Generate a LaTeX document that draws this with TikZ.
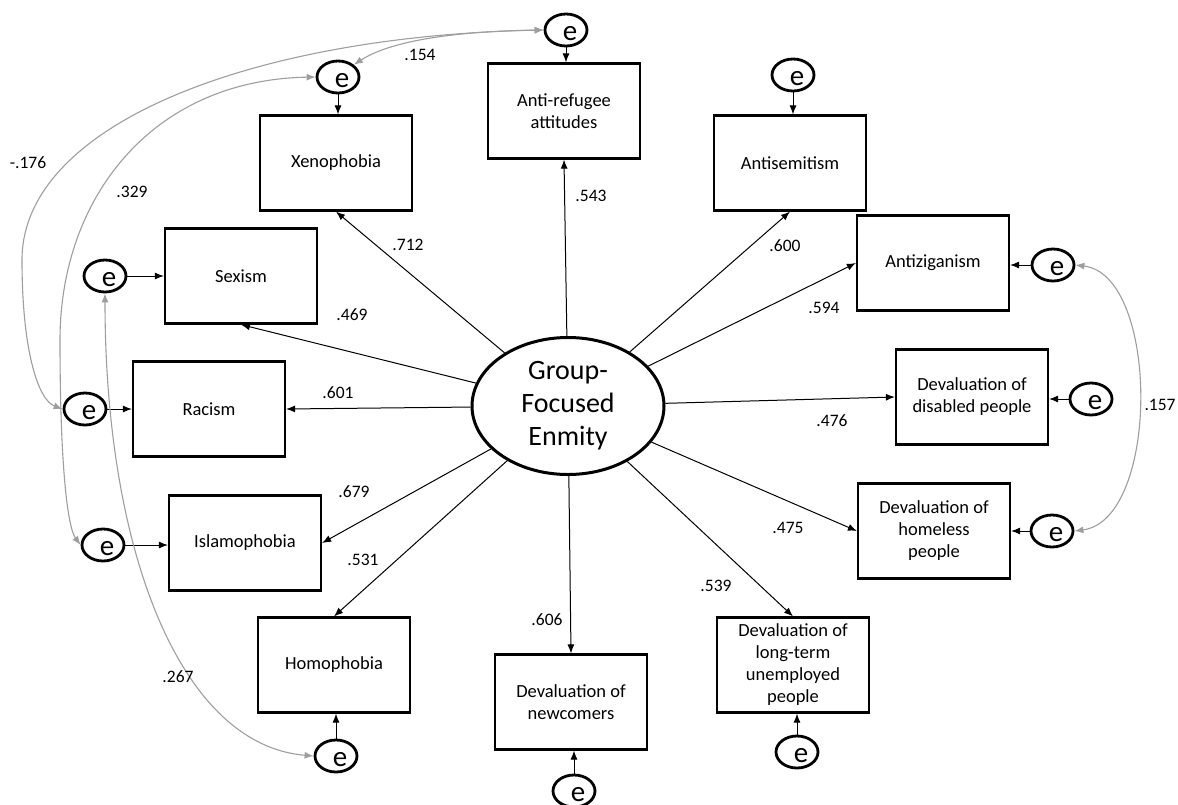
\documentclass[tikz,border=0pt]{standalone}
\usepackage{fontspec}
\setmainfont{Carlito}
\usetikzlibrary{arrows.meta,shapes.geometric}
\newcommand{\errtxt}{\smash{\raisebox{-10pt}{\makebox[0pt]{\hspace{8pt}e}}}}
\begin{document}
\begin{tikzpicture}[x=1pt, y=-1pt,
    box_style/.style={draw=black, line width=2.2pt, minimum width=152pt, minimum height=95pt, align=center, inner sep=2pt, font=\fontsize{18.5}{22}\selectfont},
    lat_style/.style={ellipse, draw=black, line width=3pt, minimum width=192pt, minimum height=137pt, inner sep=0pt, align=center, font=\fontsize{28}{33}\selectfont},
    err_style/.style={ellipse, draw=black, line width=2.8pt, minimum width=42pt, minimum height=32pt, inner sep=0pt, font=\fontsize{29}{29}\selectfont},
    load_style/.style={-{Latex[length=9pt,width=7pt]}, draw=black, line width=1pt},
    cov_style/.style={{Latex[length=9pt,width=7pt]}-{Latex[length=9pt,width=7pt]}, draw=black!38, line width=1.1pt},
    coef_style/.style={font=\fontsize{17.5}{17.5}\selectfont}]
  \useasboundingbox (0,0) rectangle (1178,804);
  \draw
    (568,406) node[lat_style] (gfe){Group-\\Focused\\Enmity}
    (336,163) node[box_style] (xeno){Xenophobia}
    (564,111) node[box_style] (refu){Anti-refugee\\attitudes}
    (790,163) node[box_style] (antis){Antisemitism}
    (933,263) node[box_style] (antiz){Antiziganism}
    (241,276) node[box_style] (sex){Sexism}
    (209,409) node[box_style] (rac){Racism}
    (972,397) node[box_style] (dis){Devaluation of\\disabled people}
    (245,543) node[box_style] (isl){Islamophobia}
    (934,531) node[box_style] (home){Devaluation of\\homeless\\people}
    (334,665) node[box_style] (homo){Homophobia}
    (571,702) node[box_style] (newc){Devaluation of\\newcomers}
    (793,665) node[box_style] (unemp){Devaluation of\\long-term\\unemployed\\people};
  \draw
    (566,30) node[err_style] (e_refu){\errtxt}
    (338,77) node[err_style] (e_xeno){\errtxt}
    (793,75) node[err_style] (e_antis){\errtxt}
    (1053,265) node[err_style] (e_antiz){\errtxt}
    (105,276) node[err_style] (e_sex){\errtxt}
    (85,409) node[err_style] (e_rac){\errtxt}
    (1091,399) node[err_style] (e_dis){\errtxt}
    (103,545) node[err_style] (e_isl){\errtxt}
    (1052,531) node[err_style] (e_home){\errtxt}
    (336,756) node[err_style] (e_homo){\errtxt}
    (574,791) node[err_style] (e_newc){\errtxt}
    (797,752) node[err_style] (e_unemp){\errtxt};
  % loadings
  \begin{scope}[load_style]
    \draw (gfe) -- (xeno.south);
    \draw (gfe) -- (refu.south);
    \draw (gfe) -- (antis.south);
    \draw (gfe) -- (antiz.west);
    \draw (gfe) -- (sex.south);
    \draw (gfe) -- (rac.east);
    \draw (gfe) -- (dis.west);
    \draw (gfe) -- (isl.east);
    \draw (gfe) -- (home.west);
    \draw (gfe) -- (homo.north);
    \draw (gfe) -- (newc.north);
    \draw (gfe) -- (unemp.north);
  \end{scope}
  % residuals
  \begin{scope}[load_style]
    \draw (e_refu) -- (e_refu |- refu.north);
    \draw (e_xeno) -- (e_xeno |- xeno.north);
    \draw (e_antis) -- (e_antis |- antis.north);
    \draw (e_antiz) -- (e_antiz -| antiz.east);
    \draw (e_sex) -- (e_sex -| sex.west);
    \draw (e_rac) -- (e_rac -| rac.west);
    \draw (e_dis) -- (e_dis -| dis.east);
    \draw (e_isl) -- (e_isl -| isl.west);
    \draw (e_home) -- (e_home -| home.east);
    \draw (e_homo) -- (e_homo |- homo.south);
    \draw (e_newc) -- (e_newc |- newc.south);
    \draw (e_unemp) -- (e_unemp |- unemp.south);
  \end{scope}
  % covariances
  \begin{scope}[cov_style]
    \draw (e_refu.west) .. controls (470,31) and (395,38) .. (e_xeno.north east);
    \draw (e_refu.west) .. controls (250,36) and (22,125) .. (22,260) .. controls (22,350) and (38,400) .. (e_rac.west);
    \draw (e_xeno.west) .. controls (150,80) and (60,200) .. (60,340) .. controls (60,470) and (68,528) .. (e_isl.west);
    \draw (e_sex.south) .. controls (105,550) and (180,745) .. (e_homo.west);
    \draw (e_antiz.east) .. controls (1160,275) and (1160,520) .. (e_home.east);
  \end{scope}
  % coefficients
  \draw
    (420,55) node[coef_style] (c_refu_xeno){.154}
    (28,163) node[coef_style] (c_refu_rac){-.176}
    (132,192) node[coef_style] (c_xeno_isl){.329}
    (178,677) node[coef_style] (c_sex_homo){.267}
    (1160,405) node[coef_style] (c_antiz_home){.157}
    (408,245) node[coef_style] (c_xeno){.712}
    (591,196) node[coef_style] (c_refu){.543}
    (785,246) node[coef_style] (c_antis){.600}
    (824,308) node[coef_style] (c_antiz){.594}
    (352,315) node[coef_style] (c_sex){.469}
    (338,393) node[coef_style] (c_rac){.601}
    (832,421) node[coef_style] (c_dis){.476}
    (354,492) node[coef_style] (c_isl){.679}
    (363,560) node[coef_style] (c_homo){.531}
    (788,528) node[coef_style] (c_home){.475}
    (716,586) node[coef_style] (c_unemp){.539}
    (547,620) node[coef_style] (c_newc){.606};
\end{tikzpicture}
\end{document}
